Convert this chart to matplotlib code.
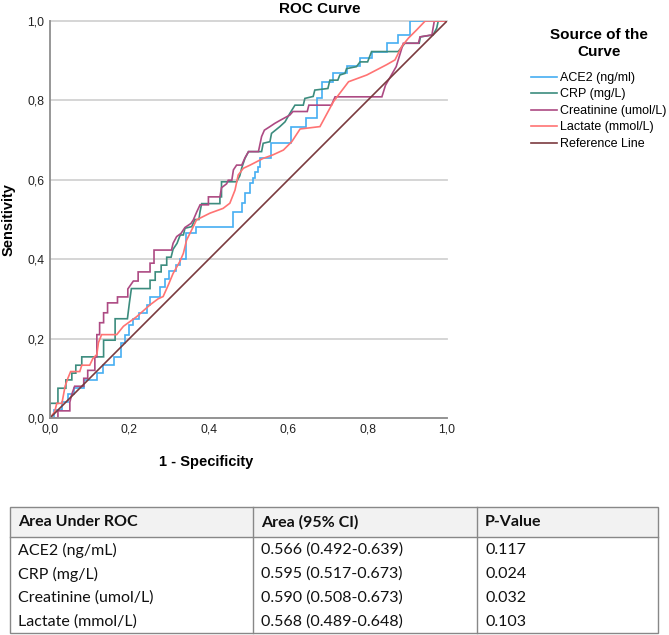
import matplotlib
matplotlib.use("Agg")
import matplotlib.pyplot as plt
from matplotlib.lines import Line2D
from matplotlib.patches import Rectangle

# ---------------- data ----------------
ace2_fpr = [0, 0.01, 0.01, 0.03, 0.03, 0.045, 0.045, 0.06, 0.06, 0.085, 0.085, 0.118, 0.118, 0.134, 0.134,
            0.16, 0.16, 0.18, 0.18, 0.19, 0.19, 0.2, 0.2, 0.21, 0.21, 0.225, 0.225, 0.245, 0.245, 0.252, 0.252,
            0.277, 0.277, 0.29, 0.29, 0.3, 0.3, 0.318, 0.318, 0.328, 0.328, 0.342, 0.342, 0.368, 0.368, 0.462,
            0.462, 0.483, 0.483, 0.491, 0.491, 0.504, 0.504, 0.512, 0.512, 0.516, 0.516, 0.525, 0.525, 0.529,
            0.529, 0.556, 0.556, 0.606, 0.606, 0.644, 0.644, 0.672, 0.672, 0.686, 0.686, 0.713, 0.713, 0.747,
            0.747, 0.781, 0.781, 0.81, 0.81, 0.848, 0.848, 0.877, 0.877, 0.907, 0.907, 1.0]
ace2_tpr = [0, 0, 0.02, 0.02, 0.04, 0.04, 0.06, 0.06, 0.075, 0.075, 0.096, 0.096, 0.113, 0.113, 0.133,
            0.133, 0.154, 0.154, 0.19, 0.19, 0.21, 0.21, 0.235, 0.235, 0.25, 0.25, 0.265, 0.265, 0.285, 0.285,
            0.306, 0.306, 0.33, 0.33, 0.35, 0.35, 0.37, 0.37, 0.385, 0.385, 0.4, 0.4, 0.465, 0.465, 0.48, 0.48,
            0.52, 0.52, 0.541, 0.541, 0.566, 0.566, 0.591, 0.591, 0.604, 0.604, 0.62, 0.62, 0.633, 0.633,
            0.654, 0.654, 0.692, 0.692, 0.732, 0.732, 0.755, 0.755, 0.805, 0.805, 0.847, 0.847, 0.868, 0.868,
            0.886, 0.886, 0.907, 0.907, 0.923, 0.923, 0.944, 0.944, 0.965, 0.965, 1.0, 1.0]

crp_fpr = [0, 0, 0.02, 0.02, 0.04, 0.04, 0.055, 0.055, 0.065, 0.065, 0.08, 0.08, 0.135, 0.135, 0.164, 0.164,
           0.195, 0.2, 0.205, 0.252, 0.252, 0.265, 0.265, 0.28, 0.28, 0.294, 0.294, 0.305, 0.31, 0.32, 0.328,
           0.336, 0.34, 0.357, 0.365, 0.375, 0.378, 0.382, 0.428, 0.428, 0.432, 0.432, 0.47, 0.478, 0.483,
           0.491, 0.5, 0.533, 0.537, 0.554, 0.558, 0.579, 0.592, 0.604, 0.617, 0.638, 0.642, 0.663, 0.667,
           0.7, 0.705, 0.725, 0.73, 0.743, 0.747, 0.772, 0.781, 0.8, 0.81, 0.877, 0.894, 0.93, 0.933, 0.965,
           0.974, 0.978, 1.0]
crp_tpr = [0, 0.037, 0.037, 0.075, 0.075, 0.096, 0.096, 0.113, 0.113, 0.133, 0.133, 0.154, 0.154, 0.196,
           0.196, 0.25, 0.25, 0.29, 0.326, 0.326, 0.347, 0.347, 0.368, 0.368, 0.385, 0.385, 0.405, 0.405,
           0.425, 0.44, 0.461, 0.461, 0.478, 0.482, 0.5, 0.5, 0.52, 0.54, 0.54, 0.557, 0.557, 0.595, 0.595,
           0.61, 0.63, 0.654, 0.671, 0.671, 0.692, 0.696, 0.717, 0.734, 0.746, 0.767, 0.788, 0.788, 0.805,
           0.81, 0.826, 0.83, 0.851, 0.851, 0.864, 0.868, 0.88, 0.885, 0.897, 0.897, 0.923, 0.923, 0.944,
           0.944, 0.96, 0.965, 0.982, 1.0, 1.0]

creat_fpr = [0, 0.02, 0.02, 0.05, 0.05, 0.055, 0.062, 0.085, 0.085, 0.095, 0.095, 0.113, 0.113, 0.118, 0.118,
             0.125, 0.125, 0.135, 0.135, 0.145, 0.145, 0.17, 0.17, 0.196, 0.196, 0.21, 0.222, 0.222, 0.252,
             0.252, 0.262, 0.262, 0.306, 0.31, 0.319, 0.33, 0.34, 0.355, 0.361, 0.37, 0.378, 0.399, 0.399,
             0.428, 0.432, 0.445, 0.449, 0.458, 0.462, 0.47, 0.483, 0.491, 0.5, 0.525, 0.533, 0.54, 0.554,
             0.566, 0.58, 0.604, 0.612, 0.648, 0.652, 0.709, 0.718, 0.836, 0.845, 0.872, 0.89, 0.928, 0.932,
             0.962, 0.968, 1.0]
creat_tpr = [0, 0, 0.018, 0.018, 0.04, 0.06, 0.08, 0.08, 0.1, 0.1, 0.12, 0.12, 0.154, 0.154, 0.21, 0.21,
             0.24, 0.24, 0.265, 0.265, 0.29, 0.29, 0.305, 0.305, 0.325, 0.345, 0.345, 0.368, 0.368, 0.39,
             0.39, 0.423, 0.423, 0.44, 0.457, 0.465, 0.48, 0.49, 0.499, 0.52, 0.537, 0.537, 0.557, 0.557,
             0.58, 0.59, 0.599, 0.599, 0.625, 0.637, 0.637, 0.655, 0.671, 0.671, 0.709, 0.725, 0.734, 0.742,
             0.75, 0.763, 0.772, 0.772, 0.788, 0.788, 0.809, 0.809, 0.838, 0.885, 0.944, 0.944, 0.96, 0.965,
             1.0, 1.0]

lact_fpr = [0, 0.012, 0.017, 0.03, 0.038, 0.045, 0.052, 0.075, 0.08, 0.1, 0.108, 0.118, 0.122, 0.13, 0.168,
            0.185, 0.218, 0.252, 0.272, 0.285, 0.298, 0.31, 0.327, 0.336, 0.344, 0.361, 0.369, 0.403, 0.436,
            0.453, 0.466, 0.474, 0.487, 0.504, 0.537, 0.562, 0.588, 0.609, 0.63, 0.68, 0.714, 0.752, 0.798,
            0.848, 0.869, 0.886, 0.903, 0.924, 0.945, 1.0]
lact_tpr = [0, 0.016, 0.037, 0.037, 0.08, 0.1, 0.117, 0.117, 0.133, 0.133, 0.15, 0.16, 0.19, 0.21, 0.21,
            0.231, 0.255, 0.285, 0.3, 0.306, 0.335, 0.364, 0.394, 0.415, 0.448, 0.482, 0.499, 0.516, 0.528,
            0.541, 0.574, 0.612, 0.629, 0.637, 0.654, 0.663, 0.675, 0.696, 0.728, 0.734, 0.797, 0.847, 0.864,
            0.89, 0.902, 0.936, 0.957, 0.978, 1.0, 1.0]

ref_x = [0, 1]
ref_y = [0, 1]

series_labels = ["ACE2 (ng/ml)", "CRP (mg/L)", "Creatinine (umol/L)", "Lactate (mmol/L)", "Reference Line"]
series_colors = ["#45aef2", "#3c8c7e", "#ad4a83", "#ff7373", "#7b3b3f"]

tick_values = [0.0, 0.2, 0.4, 0.6, 0.8, 1.0]
tick_labels = ["0,0", "0,2", "0,4", "0,6", "0,8", "1,0"]

table_header = ["Area Under ROC", "Area (95% CI)", "P-Value"]
table_markers = ["ACE2 (ng/mL)", "CRP (mg/L)", "Creatinine (umol/L)", "Lactate (mmol/L)"]
table_area = ["0.566 (0.492-0.639)", "0.595 (0.517-0.673)", "0.590 (0.508-0.673)", "0.568 (0.489-0.648)"]
table_p = ["0.117", "0.024", "0.032", "0.103"]

# ---------------- figure ----------------
W, H = 669, 635
fig = plt.figure(figsize=(W / 100, H / 100), dpi=100)
fig.patch.set_facecolor("white")
chart_font = "Liberation Sans"
plt.rcParams["font.family"] = chart_font

ax = fig.add_axes([50 / W, 1 - 418 / H, 397 / W, 397 / H])
ax.set_xlim(0, 1)
ax.set_ylim(0, 1)
ax.set_axisbelow(True)
ax.yaxis.grid(True, color="#d2d2d2", lw=1.3)
for gl in ax.get_ygridlines():
    gl.set_clip_on(False)
for s in ["top", "right"]:
    ax.spines[s].set_visible(False)
for s in ["left", "bottom"]:
    ax.spines[s].set_color("#8f8f8f")
    ax.spines[s].set_linewidth(1.3)
ax.set_xticks(tick_values, tick_labels)
ax.set_yticks(tick_values, tick_labels)
ax.tick_params(length=0, labelsize=8.8, colors="#222222", pad=4)

curves = [(ace2_fpr, ace2_tpr), (crp_fpr, crp_tpr), (creat_fpr, creat_tpr), (lact_fpr, lact_tpr), (ref_x, ref_y)]
handles = []
for (xs, ys), col, lab in zip(curves, series_colors, series_labels):
    h, = ax.plot(xs, ys, color=col, lw=1.2, label=lab, solid_joinstyle="miter")
    handles.append(h)

fig.text(320 / W, 1 - 9 / H, "ROC Curve", ha="center", va="center", fontsize=11, fontweight="bold")
fig.text(9 / W, 1 - 220 / H, "Sensitivity", ha="center", va="center", rotation=90, fontsize=10.5,
         fontweight="bold")
fig.text(206 / W, 1 - 462 / H, "1 - Specificity", ha="center", va="center", fontsize=10.5, fontweight="bold")

leg = fig.legend(handles, series_labels, loc="upper left", bbox_to_anchor=(531 / W, 1 - 28 / H),
                 frameon=False, fontsize=9, title="Source of the\nCurve",
                 title_fontproperties={"weight": "bold", "size": 11}, handlelength=2.1,
                 handletextpad=0.25, labelspacing=0.36, borderpad=0, borderaxespad=0)
leg.get_title().set_multialignment("center")
leg.get_title().set_linespacing(1.25)
leg._legend_box.sep = 9.5

# ---------------- table ----------------
tax = fig.add_axes([0, 0, 1, 1])
tax.set_xlim(0, W)
tax.set_ylim(H, 0)
tax.axis("off")
t_left, t_right, t_top, t_head, t_bot = 10, 658, 507, 537, 633
col_x = [t_left, 253, 477, t_right]
border = "#888888"
tax.add_patch(Rectangle((t_left, t_top), t_right - t_left, t_head - t_top, facecolor="#f2f2f2",
                        edgecolor="none"))
tax.add_patch(Rectangle((t_left, t_top), t_right - t_left, t_bot - t_top, facecolor="none",
                        edgecolor=border, lw=1.0))
tax.add_line(Line2D([t_left, t_right], [t_head, t_head], color=border, lw=1.0))
for cx in col_x[1:-1]:
    tax.add_line(Line2D([cx, cx], [t_top, t_bot], color=border, lw=1.0))

tfont = "Lato"
row_h = (t_bot - t_head) / len(table_markers)
for j, txt in enumerate(table_header):
    tax.text(col_x[j] + 8, (t_top + t_head) / 2, txt, ha="left", va="center", fontsize=11.5,
             fontweight="bold", family=tfont, color="#111111")
for i in range(len(table_markers)):
    yc = t_head + row_h * (i + 0.5) + 1
    for j, txt in enumerate([table_markers[i], table_area[i], table_p[i]]):
        tax.text(col_x[j] + 8, yc, txt, ha="left", va="center", fontsize=11.5, family=tfont,
                 color="#111111")

fig.savefig("out.png", dpi=100, facecolor="white")
